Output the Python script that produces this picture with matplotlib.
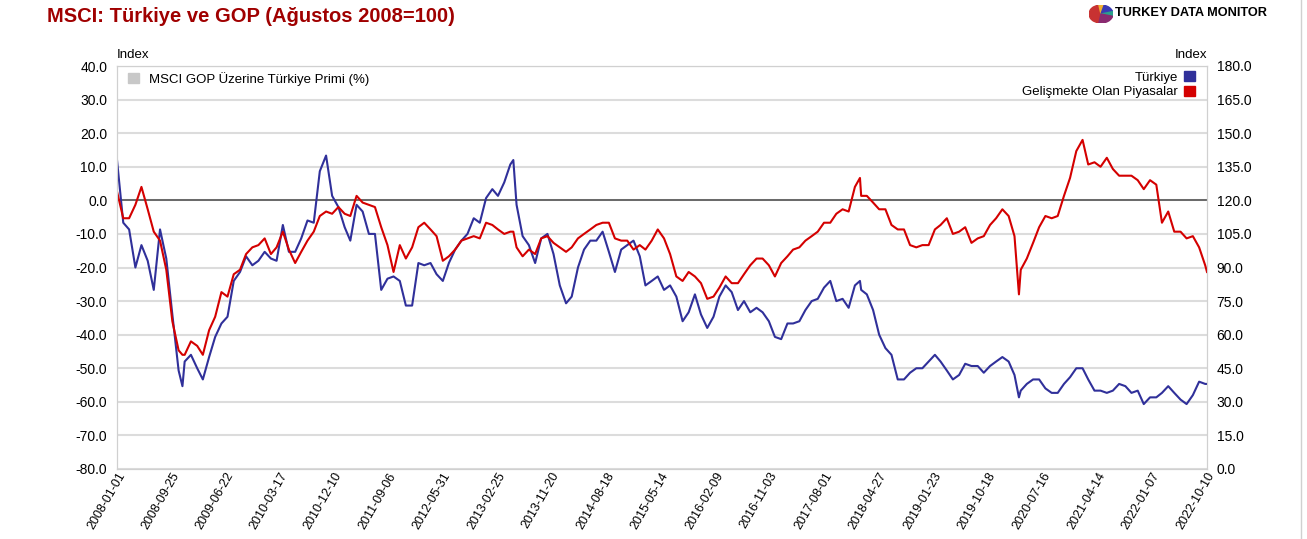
import matplotlib
matplotlib.use("Agg")
import matplotlib.pyplot as plt
from matplotlib.patches import Patch, Wedge
from matplotlib.ticker import FormatStrFormatter
from matplotlib.lines import Line2D
import numpy as np
import pandas as pd

plt.rcParams["font.family"] = ["Liberation Sans", "DejaVu Sans"]

# monthly readings (first of month), Ağustos 2008 = 100
month_starts = pd.date_range("2008-01-01", "2022-10-01", freq="MS")

turkiye_monthly = [
    138, 110, 107, 90, 100, 93, 80, 107, 94, 69, 44, 48, 51, 45, 40, 50, 59, 65, 68, 84,
    88, 95, 91, 93, 97, 94, 93, 109, 97, 97,
    103, 111, 110, 133, 140, 122, 117, 108, 102, 118, 115, 105, 105, 80, 85, 86, 84, 73, 73, 92,
    91, 92, 87, 84, 92, 98, 102, 105, 112, 110,
    121, 125, 122, 128, 136, 118, 104, 100, 92, 103, 105, 96, 82, 74, 77, 90, 98, 102, 102, 106,
    97, 88, 98, 100, 102, 95, 82, 84, 86,
    80, 82, 77, 66, 70, 78, 69, 63, 68, 77, 82, 79, 71, 75, 70, 72, 70, 66, 59, 58,
    65, 65, 66, 71, 75, 76, 81, 84, 75,
    76, 72, 82, 80, 78, 71, 60, 54, 51, 40, 40, 43, 45, 45, 48, 51, 48, 44, 40, 42,
    47, 46, 46, 43, 46, 48, 50, 48, 42,
    35, 38, 40, 40, 36, 34, 34, 38, 41, 45, 45, 40, 35, 35, 34, 35, 38, 37, 34, 35,
    29, 32, 32, 34, 37, 34, 31, 29, 33, 39, 38,
]

gop_monthly = [
    124, 112, 112, 118, 126, 116, 106, 102, 89, 66, 53, 51, 57, 55, 51, 62, 68, 79, 77, 87,
    89, 96, 99, 100, 103, 96, 99, 106, 98, 92,
    97, 102, 106, 113, 115, 114, 117, 114, 113, 122, 119, 118, 117, 108, 100, 88, 100, 94, 99, 108,
    110, 107, 104, 93, 95, 98, 102, 103, 104, 103,
    110, 109, 107, 105, 106, 99, 95, 98, 96, 103, 104, 101, 99, 97, 99, 103, 105, 107, 109, 110,
    110, 103, 102, 102, 98, 100, 98, 102, 107,
    103, 96, 86, 84, 88, 86, 83, 76, 77, 81, 86, 83, 83, 87, 91, 94, 94, 91, 86, 92,
    95, 98, 99, 102, 104, 106, 110, 110, 114,
    116, 115, 126, 122, 122, 119, 116, 116, 109, 107, 107, 100, 99, 100, 100, 107, 109, 112, 105, 106,
    108, 101, 103, 104, 109, 112, 116, 113, 104,
    89, 94, 101, 108, 113, 112, 113, 122, 130, 142, 147, 136, 137, 135, 139, 134, 131, 131, 131, 129,
    125, 129, 127, 110, 115, 106, 106, 103, 104, 99, 91,
]

# extra readings at sharp turning points
extra_dates = ["2008-11-20", "2013-05-16", "2018-01-26", "2020-03-23", "2022-10-10"]
turkiye_extra = [37, 138, 84, 32, 38]
gop_extra = [51, 106, 130, 78, 88]

tick_labels = [
    "2008-01-01", "2008-09-25", "2009-06-22", "2010-03-17", "2010-12-10", "2011-09-06",
    "2012-05-31", "2013-02-25", "2013-11-20", "2014-08-18", "2015-05-14", "2016-02-09",
    "2016-11-03", "2017-08-01", "2018-04-27", "2019-01-23", "2019-10-18", "2020-07-16",
    "2021-04-14", "2022-01-07", "2022-10-10",
]

series = pd.DataFrame({"turkiye": turkiye_monthly, "gop": gop_monthly}, index=month_starts)
extra = pd.DataFrame({"turkiye": turkiye_extra, "gop": gop_extra},
                     index=pd.to_datetime(extra_dates))
series = pd.concat([series, extra]).sort_index()

blue = "#30309a"
red = "#d40000"
grid_c = "#dcdcdc"

W, H = 1307, 539
fig = plt.figure(figsize=(W / 100, H / 100), dpi=100)
ax = fig.add_axes([117 / W, 70 / H, 1090 / W, 403 / H])

ax.set_ylim(-80, 40)
ax.set_yticks(np.arange(-80, 41, 10))
ax.yaxis.set_major_formatter(FormatStrFormatter("%.1f"))
ax.grid(axis="y", color=grid_c, lw=1.5)
ax.set_axisbelow(True)
ax.axhline(0, color="#555555", lw=1.2)

ax2 = ax.twinx()
ax2.set_ylim(0, 180)
ax2.set_yticks(np.arange(0, 181, 15))
ax2.yaxis.set_major_formatter(FormatStrFormatter("%.1f"))

ax2.plot(series.index, series["turkiye"], color=blue, lw=1.5)
ax2.plot(series.index, series["gop"], color=red, lw=1.5)

tick_dates = pd.to_datetime(tick_labels)
ax.set_xlim(tick_dates[0], tick_dates[-1])
ax.set_xticks(tick_dates)
ax.set_xticklabels(tick_labels, rotation=60, ha="right", rotation_mode="anchor", fontsize=9)

for a in (ax, ax2):
    for sp in a.spines.values():
        sp.set_color("#d0d0d0")
    a.tick_params(length=0, labelsize=10)
ax.tick_params(axis="y", pad=7)
ax2.tick_params(axis="y", pad=7)
ax.tick_params(axis="x", pad=1, labelsize=9)

# legends
leg1 = ax.legend(handles=[Patch(color="#c8c8c8")],
                 labels=["MSCI GOP Üzerine Türkiye Primi (%)"],
                 loc="upper left", bbox_to_anchor=(11 / 1090, 1 - 6 / 403),
                 borderaxespad=0, borderpad=0, frameon=False, fontsize=9.5,
                 handlelength=0.8, handleheight=0.8, handletextpad=0.8)
leg2 = ax2.legend(handles=[Patch(color=blue), Patch(color=red)],
                  labels=["Türkiye", "Gelişmekte Olan Piyasalar"],
                  loc="upper right", bbox_to_anchor=(1 - 12 / 1090, 1 - 5 / 403),
                  borderaxespad=0, borderpad=0, frameon=False, fontsize=9.5,
                  markerfirst=False, labelspacing=0.15,
                  handlelength=0.8, handleheight=0.8, handletextpad=0.5)

fig.text(117 / W, 1 - 55 / H, "Index", ha="left", va="center", fontsize=9.5)
fig.text(1207 / W, 1 - 55 / H, "Index", ha="right", va="center", fontsize=9.5)

fig.text(47 / W, 1 - 16 / H, "MSCI: Türkiye ve GOP (Ağustos 2008=100)",
         color="#a00000", fontsize=14.5, fontweight="bold", va="center")

# logo
logo = fig.add_axes([1089 / W, 1 - 23 / H, 24 / W, 18 / H])
logo.set_xlim(-1, 1)
logo.set_ylim(-1, 1)
logo.axis("off")
for t1, t2, c in [(100, 260, "#c83232"), (75, 100, "#f0b030"), (15, 75, "#3a3ab4"),
                  (-15, 15, "#2aa08c"), (-100, -15, "#8a2a70")]:
    logo.add_patch(Wedge((0, 0), 1, t1, t2, color=c))
fig.text(1115 / W, 1 - 13 / H, "TURKEY DATA MONITOR", fontsize=9.2,
         fontweight="heavy", va="center", ha="left")

fig.add_artist(Line2D([1301 / W, 1301 / W], [0, 1], color="#d0d0d0", lw=1))

fig.savefig("out.png", dpi=100)
